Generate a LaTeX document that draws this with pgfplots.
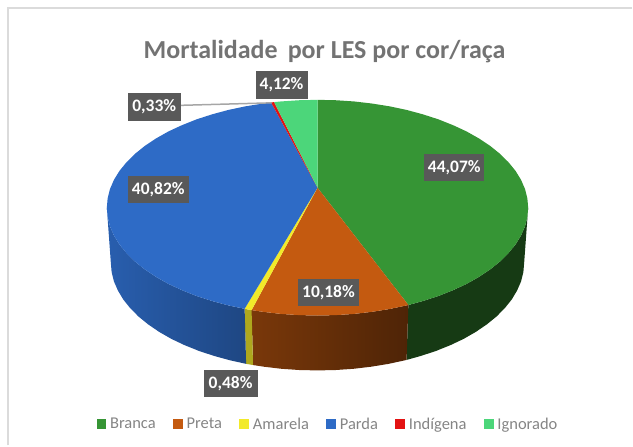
\documentclass[border=0pt]{standalone}
\usepackage{pgfplots}
\pgfplotsset{compat=1.18}
\usepackage{fontspec}
\setmainfont{Carlito}
\definecolor{cgreen}{HTML}{369535}
\definecolor{corange}{HTML}{C45A10}
\definecolor{cyellow}{HTML}{F2EA2A}
\definecolor{cblue}{HTML}{2E6BC6}
\definecolor{cred}{HTML}{E31212}
\definecolor{clight}{HTML}{4CD67A}
\definecolor{sgreen}{HTML}{163A14}
\definecolor{boxc}{HTML}{595959}
\pgfplotsset{
  sq/.style={legend image code/.code={\fill[##1] (0pt,-4.5pt) rectangle (9.5pt,5pt);}},
}
\tikzset{lab/.style={fill=boxc,text=white,font=\fontsize{17.5}{20}\selectfont\bfseries,inner sep=0pt,minimum height=27pt,anchor=center}}
\begin{document}
\begin{tikzpicture}
\begin{axis}[
  scale only axis, width=633pt, height=446pt,
  xmin=0, xmax=633, ymin=0, ymax=446, y dir=reverse,
  hide axis, clip=false,
  legend columns=6,
  legend style={draw=none, fill=none, at={(axis cs:328.5,425)}, anchor=center,
    font=\fontsize{16.5}{18}\selectfont, text=black!48,
    /tikz/every odd column/.style={column sep=2pt},
    /tikz/every even column/.style={column sep=15.5pt},
    cells={anchor=west}, inner sep=0pt},
]
% page extent
\addplot[forget plot, draw=none] coordinates {(0,0)(633,446)};
% frame
\addplot[forget plot, draw=black!14, line width=2pt] coordinates {(8.5,446) (8.5,8) (633,8)};
% green side
\addplot[forget plot, draw=none, fill=sgreen] coordinates {
(529,208)(528.2,217.4)(525.8,226.8)(521.8,236)(516.3,244.9)(509.2,253.6)(500.7,262)(490.9,269.9)(479.6,277.4)(467.2,284.4)(453.6,290.7)(439,296.5)(423.5,301.5)(409,305.5)
(407.2,360.5)(421.5,356.5)(436.7,351.5)(451.1,345.7)(464.4,339.4)(476.6,332.4)(487.6,324.9)(497.3,317)(505.6,308.6)(512.6,299.9)(517.9,291)(521.9,281.8)(524.2,272.4)(525,263)} --cycle;
% orange side
\addplot[forget plot, draw=none, left color=corange!62!black, right color=corange!40!black] coordinates {
(409,305.5)(407.2,305.9)(390.2,309.5)(372.6,312.3)(354.6,314.4)(336.4,315.6)(318,316)(299.6,315.6)(281.4,314.4)(263.4,312.3)(252,310.6)
(253.4,365.6)(264.4,367.3)(282.1,369.4)(300,370.6)(318,371)(336,370.6)(353.9,369.4)(371.6,367.3)(388.8,364.5)(405.5,360.9)(407.2,360.5)} --cycle;
% yellow side
\addplot[forget plot, draw=none, fill=cyellow!72!black] coordinates {(252,310.6)(245,309.3)(246.5,364.4)(253.4,365.6)} --cycle;
% blue side
\addplot[forget plot, draw=none, left color=cblue!88!black, right color=cblue!66!black] coordinates {
(245,309.3)(228.8,305.9)(212.5,301.5)(197,296.5)(182.4,290.7)(168.8,284.4)(156.4,277.4)(145.1,269.9)(135.3,262)(126.8,253.6)(119.7,244.9)(114.2,236)(110.2,226.8)(107.8,217.4)(107,208)
(111,263)(111.8,272.4)(114.1,281.8)(118.1,291)(123.4,299.9)(130.4,308.6)(138.7,317)(148.4,324.9)(159.4,332.4)(171.6,339.4)(184.9,345.7)(199.3,351.5)(214.5,356.5)(230.5,360.9)(246.5,364.4)} --cycle;
% top faces
\addplot[sq, draw=none, fill=cgreen] coordinates {
(318,188)(318,100)(336.4,100.4)(354.6,101.6)(372.6,103.7)(390.2,106.5)(407.2,110.1)(423.5,114.5)(439,119.5)(453.6,125.3)(467.2,131.6)(479.6,138.6)(490.9,146.1)(500.7,154)(509.2,162.4)(516.3,171.1)(521.8,180)(525.8,189.2)(528.2,198.6)(529,208)(528.2,217.4)(525.8,226.8)(521.8,236)(516.3,244.9)(509.2,253.6)(500.7,262)(490.9,269.9)(479.6,277.4)(467.2,284.4)(453.6,290.7)(439,296.5)(423.5,301.5)(409,305.5)} --cycle;
\addlegendentry{Branca}
\addplot[sq, draw=none, fill=corange] coordinates {
(318,188)(409,305.5)(407.2,305.9)(390.2,309.5)(372.6,312.3)(354.6,314.4)(336.4,315.6)(318,316)(299.6,315.6)(281.4,314.4)(263.4,312.3)(252,310.6)} --cycle;
\addlegendentry{Preta}
\addplot[sq, draw=none, fill=cyellow] coordinates {(318,188)(252,310.6)(245,309.3)} --cycle;
\addlegendentry{Amarela}
\addplot[sq, draw=none, fill=cblue] coordinates {
(318,188)(245,309.3)(228.8,305.9)(212.5,301.5)(197,296.5)(182.4,290.7)(168.8,284.4)(156.4,277.4)(145.1,269.9)(135.3,262)(126.8,253.6)(119.7,244.9)(114.2,236)(110.2,226.8)(107.8,217.4)(107,208)(107.8,198.6)(110.2,189.2)(114.2,180)(119.7,171.1)(126.8,162.4)(135.3,154)(145.1,146.1)(156.4,138.6)(168.8,131.6)(182.4,125.3)(197,119.5)(212.5,114.5)(228.8,110.1)(245.8,106.5)(263.4,103.7)(271.5,102.6)} --cycle;
\addlegendentry{Parda}
\addplot[sq, draw=none, fill=cred] coordinates {(318,188)(271.5,102.6)(274.5,102.3)} --cycle;
\addlegendentry{Indígena}
\addplot[sq, draw=none, fill=clight] coordinates {(318,188)(274.5,102.3)(281.4,101.6)(299.6,100.4)(318,100)} --cycle;
\addlegendentry{Ignorado}
% leader line
\addplot[forget plot, draw=black!35, line width=1.5pt] coordinates {(181,105.5)(272,103)};
% title and labels
\node[font=\fontsize{26}{30}\selectfont\bfseries, text=black!55, anchor=center] at (axis cs:325,52) {Mortalidade\, por LES por cor/raça};
\node[lab, minimum width=60pt] at (axis cs:455,167.5) {44,07\%};
\node[lab, minimum width=61pt] at (axis cs:329,293) {10,18\%};
\node[lab, minimum width=61pt] at (axis cs:158.5,189.5) {40,82\%};
\node[lab, minimum width=53pt, minimum height=28pt] at (axis cs:154.5,107) {0,33\%};
\node[lab, minimum width=52pt, minimum height=28pt] at (axis cs:282,85) {4,12\%};
\node[lab, minimum width=54pt] at (axis cs:231,384.5) {0,48\%};
\end{axis}
\end{tikzpicture}
\end{document}
